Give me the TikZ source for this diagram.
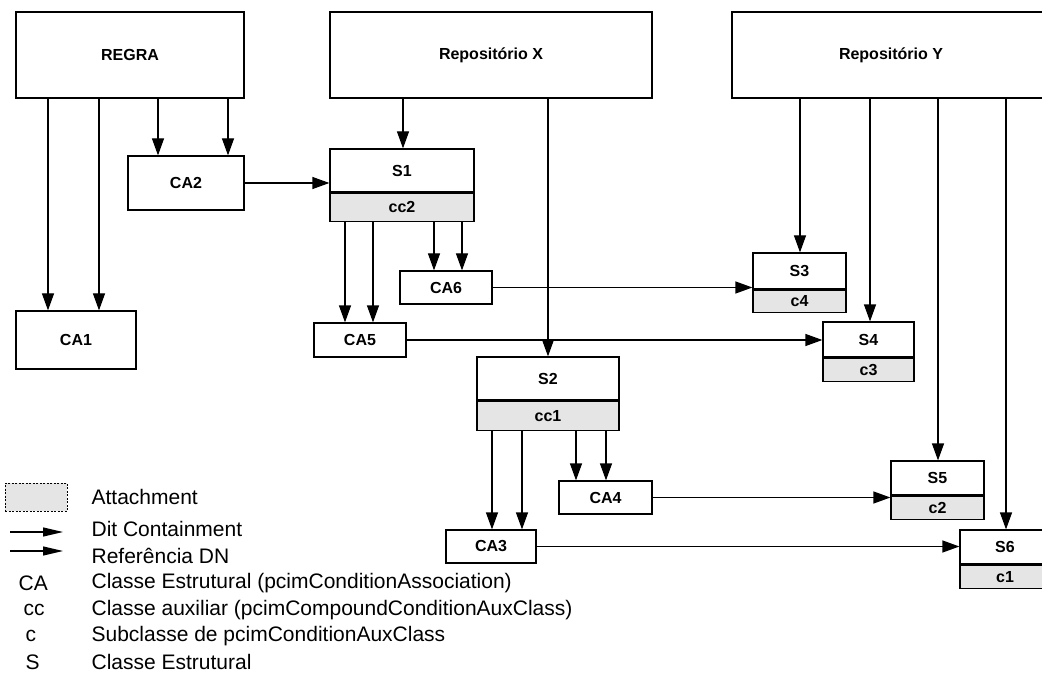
\documentclass[tikz,border=0pt]{standalone}
\usepackage{fontspec}
\setmainfont{Liberation Sans}
\usetikzlibrary{arrows.meta,positioning}

\tikzset{
  box/.style={draw, fill=white, inner sep=0pt, font=\bfseries\fontsize{16}{19}\selectfont},
  auxbox/.style={box, fill=black!10},
  legtext/.style={anchor=west, inner sep=0pt, font=\fontsize{21}{25}\selectfont},
  legarrow/.style={-{Triangle[length=20pt,width=9pt]}},
}

\begin{document}
\begin{tikzpicture}[x=1pt, y=-1pt, line width=1.2pt, >={Triangle[length=17pt,width=12pt]}]
                    \useasboundingbox (0,0) rectangle (1042,679);

                    % top row
                    \node[box, minimum width=228pt, minimum height=86pt] (regra) at (130,55) {REGRA};
                    \node[box, minimum width=322pt, minimum height=86pt] (repx) at (491,55) {Repositório X};
                    \node[box, minimum width=318pt, minimum height=86pt] (repy) at (891,55) {Repositório Y};

                    % CA boxes
                    \node[box, minimum width=116pt, minimum height=54pt] (ca2) at (186,183) {CA2};
                    \node[box, minimum width=120pt, minimum height=58pt] (ca1) at (76,340) {CA1};
                    \node[box, minimum width=92pt, minimum height=33pt] (ca6) at (446,287.5) {CA6};
                    \node[box, minimum width=92pt, minimum height=34pt] (ca5) at (360,340) {CA5};
                    \node[box, minimum width=93pt, minimum height=33pt] (ca4) at (605.5,497.5) {CA4};
                    \node[box, minimum width=90pt, minimum height=33pt] (ca3) at (491,546.5) {CA3};

                    % S boxes with their auxiliary class
                    \node[box, minimum width=144pt, minimum height=43pt] (s1) at (402,170.5) {S1};
                    \node[auxbox, minimum width=144pt, minimum height=28pt, below=0pt of s1] (cc2) {cc2};
                    \node[box, minimum width=142pt, minimum height=43pt] (s2) at (548,378.5) {S2};
                    \node[auxbox, minimum width=142pt, minimum height=29pt, below=0pt of s2] (cc1) {cc1};
                    \node[box, minimum width=93pt, minimum height=36pt] (s3) at (799.5,271) {S3};
                    \node[auxbox, minimum width=93pt, minimum height=22pt, below=0pt of s3] (c4) {c4};
                    \node[box, minimum width=91pt, minimum height=35pt] (s4) at (868.5,339.5) {S4};
                    \node[auxbox, minimum width=91pt, minimum height=23pt, below=0pt of s4] (c3) {c3};
                    \node[box, minimum width=93pt, minimum height=34pt] (s5) at (937.5,478) {S5};
                    \node[auxbox, minimum width=93pt, minimum height=23pt, below=0pt of s5] (c2) {c2};
                    \node[box, minimum width=90pt, minimum height=34pt] (s6) at (1005,547) {S6};
                    \node[auxbox, minimum width=90pt, minimum height=23pt, below=0pt of s6] (c1) {c1};

                    % dit containment
                    \draw[->] (regra.south -| 48,0) -- (48,0 |- ca1.north);
                    \draw[->] (regra.south -| 99,0) -- (99,0 |- ca1.north);
                    \draw[->] (regra.south -| 158,0) -- (158,0 |- ca2.north);
                    \draw[->] (regra.south -| 228,0) -- (228,0 |- ca2.north);
                    \draw[->] (repx.south -| 403,0) -- (403,0 |- s1.north);
                    \draw[->] (repx.south -| 548,0) -- (548,0 |- s2.north);
                    \draw[->] (cc2.south -| 345,0) -- (345,0 |- ca5.north);
                    \draw[->] (cc2.south -| 373,0) -- (373,0 |- ca5.north);
                    \draw[->] (cc2.south -| 434,0) -- (434,0 |- ca6.north);
                    \draw[->] (cc2.south -| 462,0) -- (462,0 |- ca6.north);
                    \draw[->] (cc1.south -| 492,0) -- (492,0 |- ca3.north);
                    \draw[->] (cc1.south -| 522,0) -- (522,0 |- ca3.north);
                    \draw[->] (cc1.south -| 576,0) -- (576,0 |- ca4.north);
                    \draw[->] (cc1.south -| 606,0) -- (606,0 |- ca4.north);
                    \draw[->] (repy.south -| 800,0) -- (800,0 |- s3.north);
                    \draw[->] (repy.south -| 870,0) -- (870,0 |- s4.north);
                    \draw[->] (repy.south -| 938,0) -- (938,0 |- s5.north);
                    \draw[->] (repy.south -| 1006,0) -- (1006,0 |- s6.north);

                    % DN references
                    \draw[->] (ca2.east) -- (ca2.east -| s1.west);
                    \draw[->] (ca6.east) -- (ca6.east -| s3.west);
                    \draw[->] (ca5.east) -- (ca5.east -| s4.west);
                    \draw[->] (ca4.east) -- (ca4.east -| s5.west);
                    \draw[->] (ca3.east) -- (ca3.east -| s6.west);

                    % legend
                    \node[draw, fill=black!10, line width=0.8pt, dash pattern=on 2pt off 1.5pt, inner sep=0pt,
                          minimum width=62pt, minimum height=28pt] (att) at (36,497) {};
                    \coordinate (dit0) at (10,532);
                    \coordinate (dit1) at (63,532);
                    \coordinate (ref0) at (10,551);
                    \coordinate (ref1) at (63,551);
                    \draw[legarrow] (dit0) -- (dit1);
                    \draw[legarrow] (ref0) -- (ref1);

                    \node[legtext] (latt) at (91,497) {Attachment};
                    \node[legtext] (ldit) at (91,529) {Dit Containment};
                    \node[legtext] (lref) at (91,556) {Referência DN};
                    \node[legtext] (lca) at (91,583) {Classe Estrutural (pcimConditionAssociation)};
                    \node[legtext] (lcc) at (91,610) {Classe auxiliar (pcimCompoundConditionAuxClass)};
                    \node[legtext] (lc) at (91,636) {Subclasse de pcimConditionAuxClass};
                    \node[legtext] (ls) at (91,662) {Classe Estrutural};
                    \node[legtext] (kca) at (18,583) {CA};
                    \node[legtext] (kcc) at (23,610) {cc};
                    \node[legtext] (kc) at (25,636) {c};
                    \node[legtext] (ks) at (25,662) {S};
\end{tikzpicture}
\end{document}
